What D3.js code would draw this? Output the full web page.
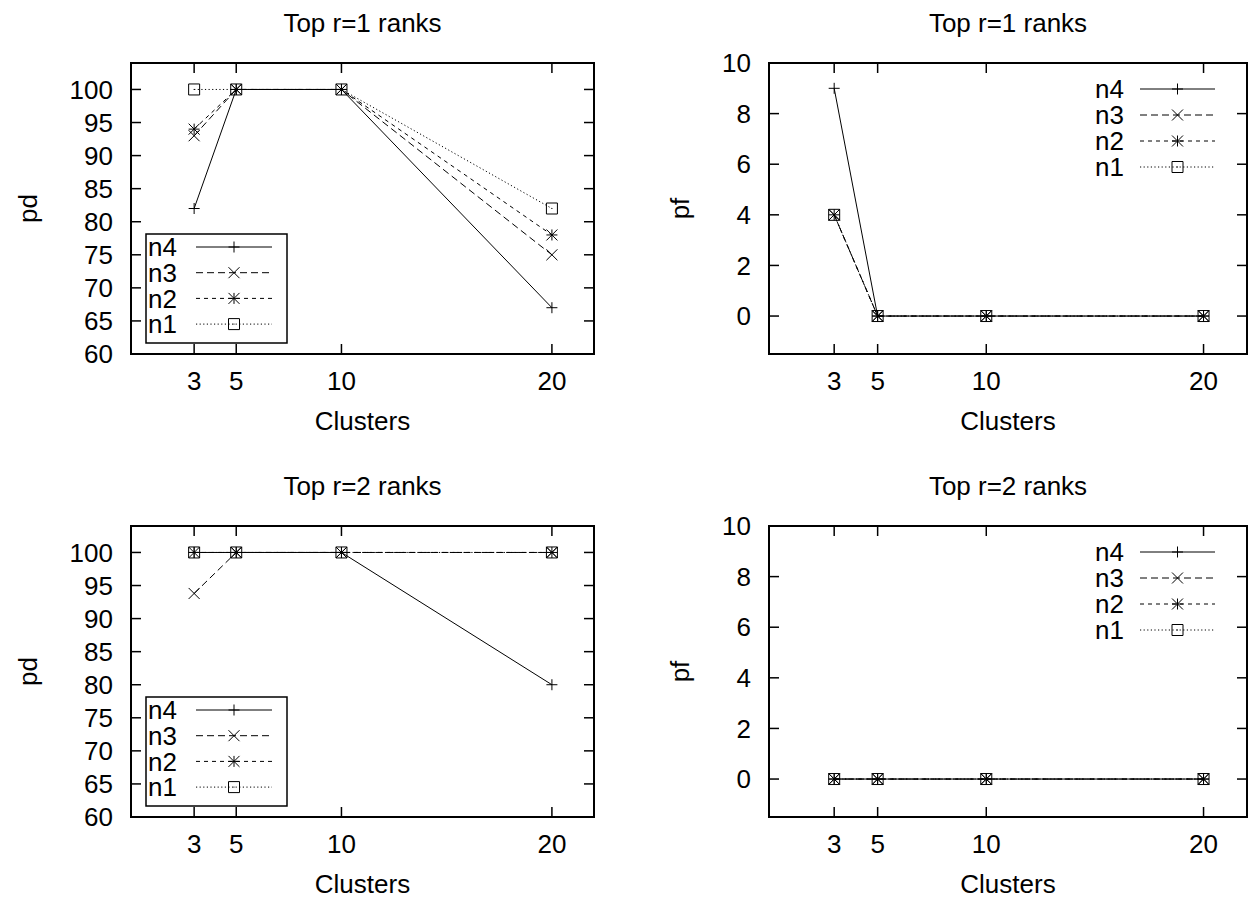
<!DOCTYPE html>
<html>
<head>
<meta charset="utf-8">
<script src="https://cdn.jsdelivr.net/npm/d3@7"></script>
<style>
  body { margin: 0; background: #fff; }
  svg text { font-family: "Liberation Sans", Arial, sans-serif; font-size: 26px; fill: #000; }
</style>
</head>
<body>
<svg id="chart" width="1248" height="901"></svg>
<script>
// data
const clusters = [3, 5, 10, 20]
const seriesNames = ['n4', 'n3', 'n2', 'n1']
const pdTicks = [60, 65, 70, 75, 80, 85, 90, 95, 100]
const pfTicks = [0, 2, 4, 6, 8, 10]

// rows follow seriesNames: n4, n3, n2, n1
const pdR1 = [[82, 100, 100, 67], [93, 100, 100, 75], [94, 100, 100, 78], [100, 100, 100, 82]]
const pfR1 = [[9, 0, 0, 0], [4, 0, 0, 0], [4, 0, 0, 0], [4, 0, 0, 0]]
const pdR2 = [[100, 100, 100, 80], [93.8, 100, 100, 100], [100, 100, 100, 100], [100, 100, 100, 100]]
const pfR2 = [[0, 0, 0, 0], [0, 0, 0, 0], [0, 0, 0, 0], [0, 0, 0, 0]]

const dashes = [null, '7,4', '4,4', '1.2,2.4']
const markers = ['plus', 'cross', 'star', 'box']

const svg = d3.select('#chart')

const panels = [
  { x0: 131, x1: 594, y0: 63, y1: 354, title: 'Top r=1 ranks', ylab: 'pd', ydom: [60, 104], ticks: pdTicks, data: pdR1, legend: 'box' },
  { x0: 769, x1: 1247, y0: 63, y1: 354, title: 'Top r=1 ranks', ylab: 'pf', ydom: [-1.5, 10], ticks: pfTicks, data: pfR1, legend: 'plain' },
  { x0: 131, x1: 594, y0: 526, y1: 817, title: 'Top r=2 ranks', ylab: 'pd', ydom: [60, 104], ticks: pdTicks, data: pdR2, legend: 'box' },
  { x0: 769, x1: 1247, y0: 526, y1: 817, title: 'Top r=2 ranks', ylab: 'pf', ydom: [-1.5, 10], ticks: pfTicks, data: pfR2, legend: 'plain' }
]

function marker(g, type, x, y) {
  const s = 5.5
  const p = d3.path()
  if (type === 'plus' || type === 'star') {
    p.moveTo(x - s, y); p.lineTo(x + s, y)
    p.moveTo(x, y - s); p.lineTo(x, y + s)
  }
  if (type === 'cross' || type === 'star') {
    p.moveTo(x - s, y - s); p.lineTo(x + s, y + s)
    p.moveTo(x - s, y + s); p.lineTo(x + s, y - s)
  }
  if (type === 'box') {
    p.rect(x - s, y - s, 2 * s, 2 * s)
    p.moveTo(x - 0.5, y); p.lineTo(x + 0.5, y)
  }
  g.append('path').attr('d', p.toString())
    .attr('fill', 'none').attr('stroke', '#000').attr('stroke-width', 1)
}

panels.forEach(pn => {
  const x = d3.scaleLinear().domain([0, 22]).range([pn.x0, pn.x1])
  const y = d3.scaleLinear().domain(pn.ydom).range([pn.y1, pn.y0])
  const g = svg.append('g')

  // ticks, all four sides, pointing inward
  const tl = 10
  pn.ticks.forEach(t => {
    g.append('line').attr('x1', pn.x0).attr('x2', pn.x0 + tl).attr('y1', y(t)).attr('y2', y(t))
      .attr('stroke', '#000').attr('stroke-width', 1.5)
    g.append('line').attr('x1', pn.x1).attr('x2', pn.x1 - tl).attr('y1', y(t)).attr('y2', y(t))
      .attr('stroke', '#000').attr('stroke-width', 1.5)
    g.append('text').attr('x', pn.x0 - 18).attr('y', y(t)).attr('dy', '0.35em')
      .attr('text-anchor', 'end').text(t)
  })
  clusters.forEach(c => {
    g.append('line').attr('x1', x(c)).attr('x2', x(c)).attr('y1', pn.y1).attr('y2', pn.y1 - tl)
      .attr('stroke', '#000').attr('stroke-width', 1.5)
    g.append('line').attr('x1', x(c)).attr('x2', x(c)).attr('y1', pn.y0).attr('y2', pn.y0 + tl)
      .attr('stroke', '#000').attr('stroke-width', 1.5)
    g.append('text').attr('x', x(c)).attr('y', pn.y1 + 36)
      .attr('text-anchor', 'middle').text(c)
  })

  // frame
  g.append('rect').attr('x', pn.x0).attr('y', pn.y0)
    .attr('width', pn.x1 - pn.x0).attr('height', pn.y1 - pn.y0)
    .attr('fill', 'none').attr('stroke', '#000').attr('stroke-width', 2)

  // titles
  const cx = (pn.x0 + pn.x1) / 2
  g.append('text').attr('x', cx).attr('y', pn.y0 - 31).attr('text-anchor', 'middle').text(pn.title)
  g.append('text').attr('x', cx).attr('y', pn.y1 + 76).attr('text-anchor', 'middle').text('Clusters')
  const ly = (pn.y0 + pn.y1) / 2
  const lx = pn.legend === 'box' ? 28 : 680
  g.append('text').attr('transform', `translate(${lx},${ly}) rotate(-90)`)
    .attr('dy', '0.35em').attr('text-anchor', 'middle').text(pn.ylab)

  // legend layout
  let lg
  if (pn.legend === 'box') {
    lg = { tx: 148, anchor: 'start', l0: 196, l1: 272, m: 234, r0: pn.y0 + 184, dy: 25.7 }
    g.append('rect').attr('x', 146).attr('y', pn.y0 + 171).attr('width', 141).attr('height', 109)
      .attr('fill', '#fff').attr('stroke', '#000').attr('stroke-width', 1.5)
  } else {
    lg = { tx: 1124, anchor: 'end', l0: 1140, l1: 1215, m: 1177.5, r0: pn.y0 + 26, dy: 26 }
  }

  const line = d3.line().x((d, i) => x(clusters[i])).y(d => y(d))

  pn.data.forEach((vals, k) => {
    const s = g.append('g')
    s.append('path').attr('d', line(vals))
      .attr('fill', 'none').attr('stroke', '#000').attr('stroke-width', 1)
      .attr('stroke-dasharray', dashes[k])
    vals.forEach((v, i) => marker(s, markers[k], x(clusters[i]), y(v)))

    const ry = lg.r0 + k * lg.dy
    g.append('text').attr('x', lg.tx).attr('y', ry).attr('dy', '0.35em')
      .attr('text-anchor', lg.anchor).text(seriesNames[k])
    g.append('line').attr('x1', lg.l0).attr('x2', lg.l1).attr('y1', ry).attr('y2', ry)
      .attr('stroke', '#000').attr('stroke-width', 1).attr('stroke-dasharray', dashes[k])
    marker(g, markers[k], lg.m, ry)
  })
})
</script>
</body>
</html>
